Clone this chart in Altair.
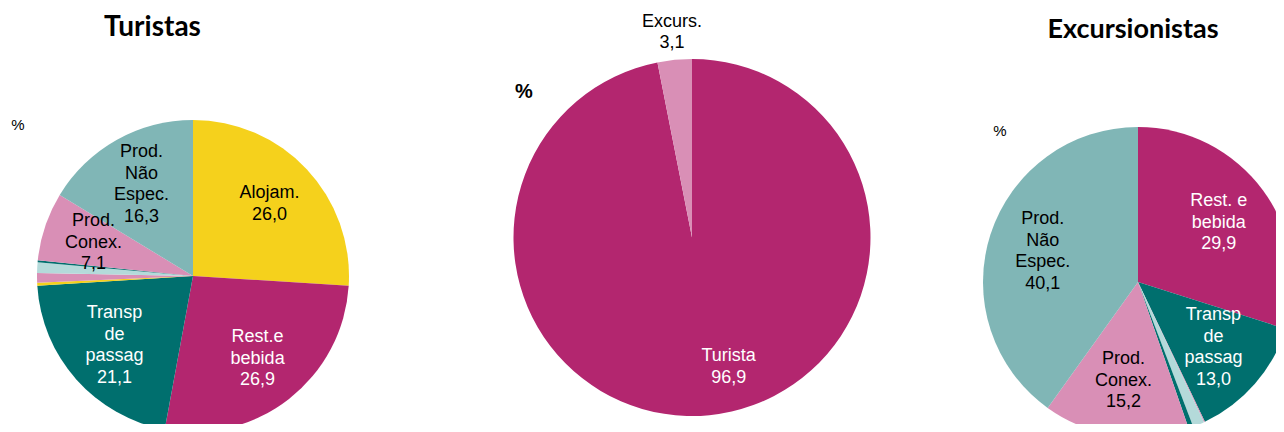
import altair as alt
import pandas as pd

# ---- data -------------------------------------------------------------
categories = [
    "Alojamento", "Restauração e bebidas", "Transporte de passageiros",
    "Aluguer de transporte", "Agências de viagens", "Serviços culturais",
    "Serviços recreativos", "Produtos conexos", "Produtos não específicos",
]
turistas_values = [26.0, 26.9, 21.1, 0.3, 1.0, 1.1, 0.2, 7.1, 16.3]
turistas_names = ["Alojam.", "Rest.e\nbebida", "Transp\nde\npassag", "", "", "", "",
                  "Prod.\nConex.", "Prod.\nNão\nEspec."]
excursionistas_values = [0.0, 29.9, 13.0, 0.0, 0.1, 1.2, 0.5, 15.2, 40.1]
excursionistas_names = ["", "Rest. e\nbebida", "Transp\nde\npassag", "", "", "", "",
                        "Prod.\nConex.", "Prod.\nNão\nEspec."]
visitor_types = ["Turista", "Excurs."]
visitor_values = [96.9, 3.1]

palette = ["#F5D11C", "#B3266F", "#006F6E", "#F5D11C", "#D98FB6",
           "#B4DADA", "#006F6E", "#D98FB6", "#80B6B6"]
visitor_palette = ["#B3266F", "#D98FB6"]
white_text = ["Restauração e bebidas", "Transporte de passageiros", "Turista"]

LABEL_FONT = "Liberation Sans"
FS = 18
LH = 21.5


def fmt(v):
    return f"{v:.1f}".replace(".", ",")


def make_df(cats, vals, names):
    full = [f"{n}\n{fmt(v)}" if n else "" for n, v in zip(names, vals)]
    return pd.DataFrame({
        "idx": list(range(len(cats))),
        "cat": cats,
        "value": vals,
        "label": full,
        "nlines": [len(t.split("\n")) if t else 0 for t in full],
    })


def pie(df, domain, rng, cx, cy, r):
    return alt.Chart(df).mark_arc(radius=r).encode(
        theta=alt.Theta("value:Q", stack=True),
        order=alt.Order("idx:Q"),
        color=alt.Color("cat:N", scale=alt.Scale(domain=domain, range=rng), legend=None),
        x=alt.value(cx), y=alt.value(cy),
    )


def labels(df, cx, cy, lr, dx=0):
    out = []
    for n in sorted(set(df["nlines"]) - {0}):
        d = df.copy()
        d["label"] = [t if k == n else "" for t, k in zip(df["label"], df["nlines"])]
        out.append(alt.Chart(d).mark_text(
            radius=lr, lineBreak="\n", fontSize=FS, font=LABEL_FONT, lineHeight=LH,
            align="center", baseline="middle", dy=-(n - 1) * LH / 2, dx=dx,
        ).encode(
            theta=alt.Theta("value:Q", stack=True),
            order=alt.Order("idx:Q"),
            text="label:N",
            color=alt.condition(alt.FieldOneOfPredicate(field="cat", oneOf=white_text),
                                alt.value("white"), alt.value("black")),
            x=alt.value(cx), y=alt.value(cy),
        ))
    return out


def note(txt, x, y, size, bold=False, font=LABEL_FONT):
    return alt.Chart(pd.DataFrame({"t": [txt]})).mark_text(
        fontSize=size, font=font, fontWeight="bold" if bold else "normal",
        align="center", baseline="middle", color="black",
    ).encode(text="t:N", x=alt.value(x), y=alt.value(y))


df_t = make_df(categories, turistas_values, turistas_names)
df_e = make_df(categories, excursionistas_values, excursionistas_names)
df_v_in = make_df(visitor_types, visitor_values, ["Turista", ""])
df_v_out = make_df(visitor_types, visitor_values, ["", "Excurs."])

layers = [
    pie(df_t, categories, palette, 185, 268, 156),
    *labels(df_t, 185, 268, 105),
    pie(df_v_in, visitor_types, visitor_palette, 684, 229.5, 178.5),
    *labels(df_v_in, 684, 229.5, 130, dx=24),
    *labels(df_v_out, 684, 229.5, 206),
    pie(df_e, categories, palette, 1130, 274, 155),
    *labels(df_e, 1130, 274, 100),
    note("Turistas", 144.5, 20, 28, bold=True, font="Lato"),
    note("Excursionistas", 1125, 22, 27, bold=True, font="Lato"),
    note("%", 10, 117, 15),
    note("%", 516, 84, 20, bold=True),
    note("%", 992, 123, 15),
]

chart = alt.layer(*layers).resolve_scale(
    theta="independent", color="independent"
).properties(
    width=1268, height=416, padding=0, autosize=alt.AutoSizeParams(type="none"),
    background="white",
).configure_view(stroke=None)

chart.save("out.html", embed_options={"renderer": "svg", "actions": False})
